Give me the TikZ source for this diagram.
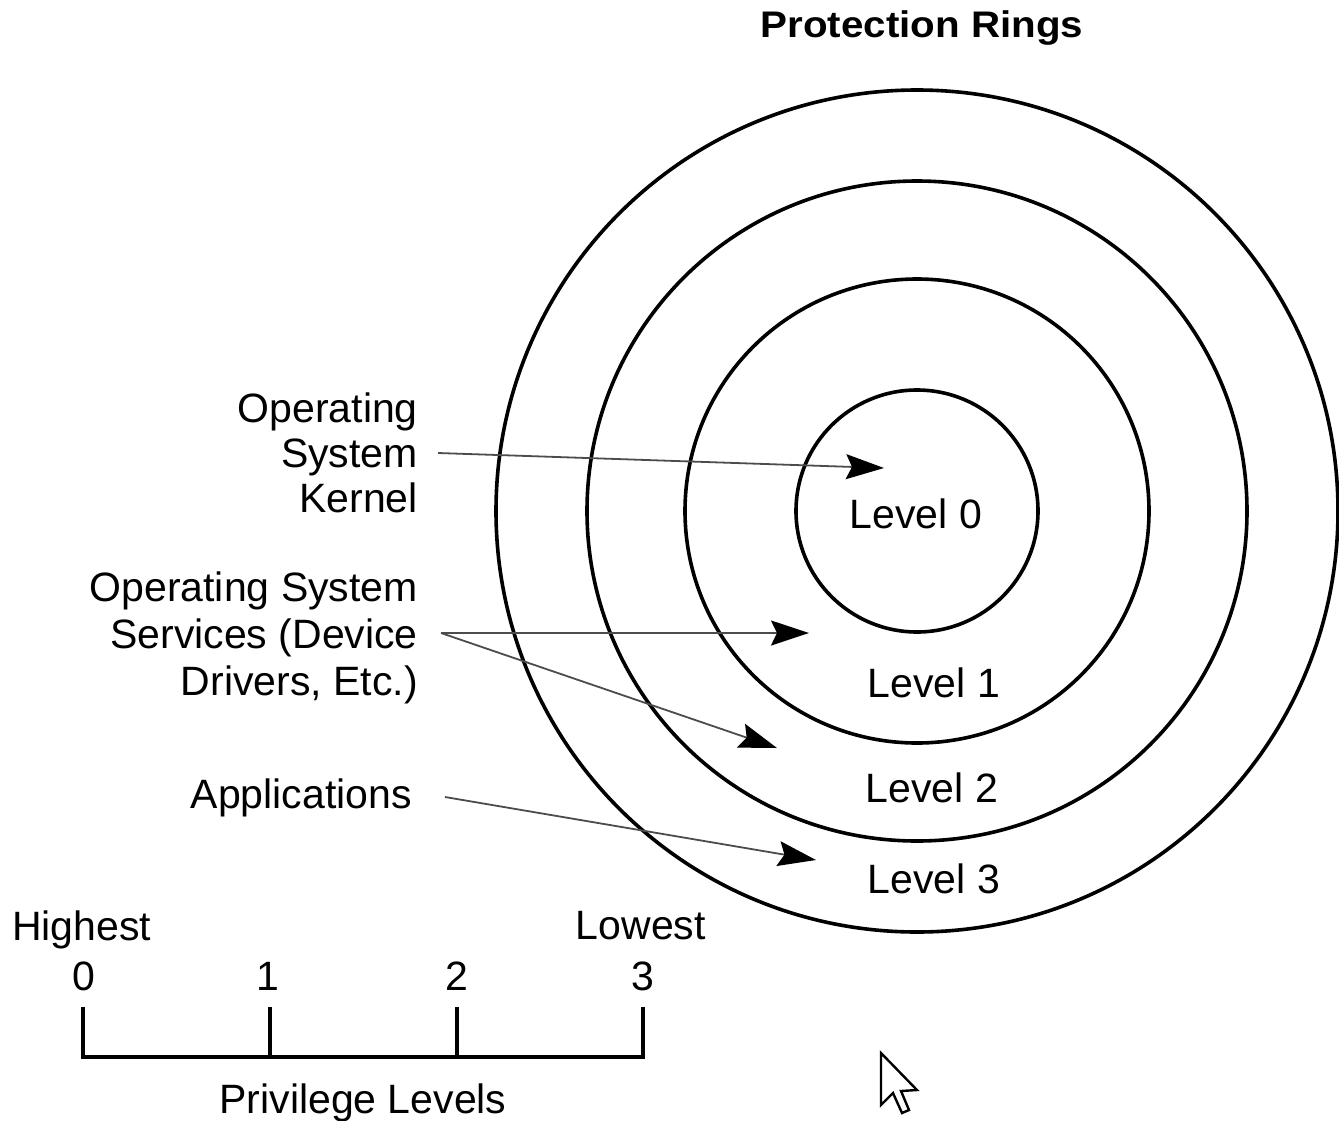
\documentclass[tikz,border=0pt]{standalone}
\usepackage{fontspec}
\setmainfont{Liberation Sans}
\newfontfamily\titlefont{Liberation Sans}[FakeStretch=1.09]
\usetikzlibrary{arrows.meta}
\begin{document}
\begin{tikzpicture}[x=1pt,y=-1pt,
  ring/.style={line width=3.6pt},
  lbl/.style={inner sep=0pt,font=\fontsize{41}{46}\selectfont},
  lblr/.style={lbl,anchor=base east},
  lblc/.style={lbl,anchor=base},
  pointer/.style={line width=1.8pt,draw=black!70,-{Stealth[length=38pt,width=25pt,inset=6pt,black]}},
  scaleline/.style={line width=3.4pt,line cap=butt},
  cursor/.style={line width=2.4pt,fill=white,line join=miter}]
\useasboundingbox (0,0) rectangle (1339,1120);
% title
\node[inner sep=0pt,anchor=base,font=\titlefont\bfseries\fontsize{37}{44}\selectfont] (title) at (922,37) {Protection Rings};
% rings
\coordinate (c) at (917,511);
\draw[ring] (c) circle[radius=121];
\draw[ring] (c) circle[radius=232];
\draw[ring] (c) circle[radius=330];
\draw[ring] (c) circle[radius=421];
% level labels
\node[lblc] (l0) at (916,528) {Level 0};
\node[lblc] (l1) at (934,697) {Level 1};
\node[lblc] (l2) at (932,802) {Level 2};
\node[lblc] (l3) at (934,893) {Level 3};
% left labels
\node[lblr] (k1) at (418,422) {Operating};
\node[lblr] (k2) at (418,467) {System};
\node[lblr] (k3) at (418,512) {Kernel};
\node[lblr] (s1) at (418,601) {Operating System};
\node[lblr] (s2) at (418,648) {Services (Device};
\node[lblr] (s3) at (418,695) {Drivers, Etc.)};
\node[lblr] (ap) at (412,808) {Applications};
% arrows
\coordinate (ks) at (438,453);
\coordinate (kt) at (884,468);
\coordinate (ss) at (441,633);
\coordinate (st1) at (809,633);
\coordinate (st2) at (777,748);
\coordinate (as) at (445,797);
\coordinate (at) at (816,860);
\draw[pointer] (ks) -- (kt);
\draw[pointer] (ss) -- (st1);
\draw[pointer] (ss) -- (st2);
\draw[pointer] (as) -- (at);
% privilege scale
\node[lbl,anchor=base west] (hi) at (12,940) {Highest};
\node[lbl,anchor=base east] (lo) at (706,939) {Lowest};
\node[lblc] (d0) at (84,990) {0};
\node[lblc] (d1) at (268,990) {1};
\node[lblc] (d2) at (457,990) {2};
\node[lblc] (d3) at (643,990) {3};
\coordinate (t0) at (83,1007);
\coordinate (t1) at (270,1007);
\coordinate (t2) at (457,1007);
\coordinate (t3) at (643,1007);
\draw[scaleline] (t0) -- (83,1057) -- (643,1057) -- (t3);
\draw[scaleline] (t1) -- (270,1057);
\draw[scaleline] (t2) -- (457,1057);
\node[lblc] (pl) at (363,1113) {Privilege Levels};
% mouse cursor
\draw[cursor] (881,1053) -- (881,1105) -- (893,1093) -- (902,1113) -- (909,1110) -- (901,1091) -- (917,1090) -- cycle;
\end{tikzpicture}
\end{document}
